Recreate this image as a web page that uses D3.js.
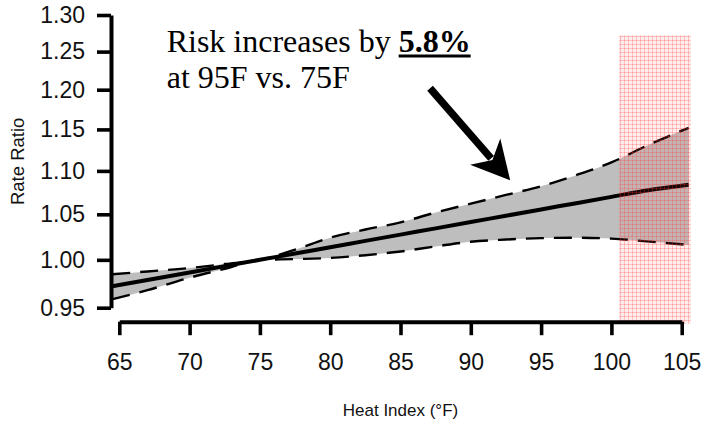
<!DOCTYPE html>
<html>
<head>
<meta charset="utf-8">
<script src="https://cdn.jsdelivr.net/npm/d3@7"></script>
<style>
  html, body { margin: 0; padding: 0; background: #fff; }
  svg { display: block; }
</style>
</head>
<body>
<svg id="chart" width="702" height="425"></svg>
<script>
// ---- Data ----
const heatIndex = [64.5, 67, 70, 72.5, 75, 77.5, 80, 82.5, 85, 87.5, 90, 92.5, 95, 97.5, 100, 102.5, 105.5];
const rateRatio = [0.972, 0.9786, 0.9866, 0.9933, 1.000, 1.0068, 1.0136, 1.0205, 1.0274, 1.0343, 1.0413, 1.0484, 1.0555, 1.0626, 1.0698, 1.0771, 1.0837];
const upperCI   = [0.9846, 0.9876, 0.9912, 0.9955, 1.000, 1.011, 1.024, 1.033, 1.041, 1.052, 1.062, 1.072, 1.082, 1.095, 1.110, 1.130, 1.152];
const lowerCI   = [0.9586, 0.9680, 0.9810, 0.9905, 1.000, 1.0008, 1.002, 1.005, 1.009, 1.0145, 1.0196, 1.022, 1.0235, 1.024, 1.023, 1.020, 1.016];
const xTicks = [65, 70, 75, 80, 85, 90, 95, 100, 105];
const yTicks = [0.95, 1.00, 1.05, 1.10, 1.15, 1.20, 1.25, 1.30];
const extremeRange = [100.55, 105.65];           // shaded "extreme heat" region (x)
const extremeRR = [0.9335, 1.272];               // its vertical extent (rate ratio)
const annotationLines = ["Risk increases by ", "5.8%", "at 95F vs. 75F"];
const annotationAnchor = [68.37, 1.25, 1.2018];  // x, first-line y, second-line y
const arrowFrom = [87.1, 1.2018];
const arrowTo = [92.8, 1.089];

// ---- Scales ----
const svg = d3.select("#chart");
const x = d3.scaleLinear().domain([65, 105]).range([119.3, 681.7]);
const y = d3.scaleLog().domain([0.95, 1.30]).range([307.7, 15]);

const data = heatIndex.map((h, i) => ({ h, rr: rateRatio[i], lo: lowerCI[i], hi: upperCI[i] }));

// ---- Band ----
svg.append("path")
  .datum(data)
  .attr("fill", "#bebebe")
  .attr("d", d3.area().curve(d3.curveMonotoneX)
    .x(d => x(d.h)).y0(d => y(d.lo)).y1(d => y(d.hi)));

// dashed CI lines
["hi", "lo"].forEach(k => {
  svg.append("path")
    .datum(data)
    .attr("fill", "none")
    .attr("stroke", "#000")
    .attr("stroke-width", 2.4)
    .attr("stroke-dasharray", "18 10")
    .attr("d", d3.line().curve(d3.curveMonotoneX).x(d => x(d.h)).y(d => y(d[k])));
});

// central estimate
svg.append("path")
  .datum(data)
  .attr("fill", "none")
  .attr("stroke", "#000")
  .attr("stroke-width", 4)
  .attr("d", d3.line().curve(d3.curveMonotoneX).x(d => x(d.h)).y(d => y(d.rr)));

// ---- Pattern region (red grid) ----
const defs = svg.append("defs");
const pat = defs.append("pattern")
  .attr("id", "redgrid")
  .attr("patternUnits", "userSpaceOnUse")
  .attr("width", 4).attr("height", 4);
pat.append("rect").attr("width", 4).attr("height", 4).attr("fill", "rgba(255,70,70,0.10)");
pat.append("rect").attr("x", 0).attr("y", 0).attr("width", 4).attr("height", 1).attr("fill", "rgba(255,50,50,0.24)");
pat.append("rect").attr("x", 0).attr("y", 0).attr("width", 1).attr("height", 4).attr("fill", "rgba(255,50,50,0.24)");

svg.append("rect")
  .attr("x", x(extremeRange[0]))
  .attr("y", y(extremeRR[1]))
  .attr("width", x(extremeRange[1]) - x(extremeRange[0]))
  .attr("height", y(extremeRR[0]) - y(extremeRR[1]))
  .attr("fill", "url(#redgrid)");

// ---- Axes ----
const fontSans = "'Liberation Sans', Arial, Helvetica, sans-serif";

const yAxis = svg.append("g")
  .attr("transform", "translate(111,0)")
  .call(d3.axisLeft(y).tickValues(yTicks).tickFormat(d3.format(".2f"))
    .tickSize(14).tickSizeOuter(0).tickPadding(12));

const xAxis = svg.append("g")
  .attr("transform", "translate(0,321.7)")
  .call(d3.axisBottom(x).tickValues(xTicks).tickFormat(d3.format("d"))
    .tickSize(13.5).tickSizeOuter(0).tickPadding(18.5));

[yAxis, xAxis].forEach(g => {
  g.select(".domain").attr("stroke", "#000").attr("stroke-width", 4);
  g.selectAll(".tick line").attr("stroke", "#000").attr("stroke-width", 3.6);
  g.selectAll(".tick text")
    .attr("fill", "#111")
    .style("font-family", fontSans)
    .style("font-size", "23px");
});

// axis titles
svg.append("text")
  .attr("transform", `translate(24,${(y(0.95) + y(1.30)) / 2}) rotate(-90)`)
  .attr("text-anchor", "middle")
  .style("font-family", fontSans)
  .style("font-size", "18.5px")
  .attr("fill", "#111")
  .text("Rate Ratio");

svg.append("text")
  .attr("x", (x(65) + x(105)) / 2)
  .attr("y", 416)
  .attr("text-anchor", "middle")
  .style("font-family", fontSans)
  .style("font-size", "17px")
  .attr("fill", "#111")
  .text("Heat Index (°F)");

// ---- Annotation ----
const fontSerif = "'Liberation Serif', 'Times New Roman', Times, serif";
const ax = x(annotationAnchor[0]);
const t1 = svg.append("text")
  .attr("x", ax).attr("y", y(annotationAnchor[1]))
  .style("font-family", fontSerif).style("font-size", "32px").attr("fill", "#000");
t1.append("tspan").text(annotationLines[0]);
t1.append("tspan").style("font-weight", "bold").text(annotationLines[1]);

const n0 = annotationLines[0].length;
const startW = t1.node().getSubStringLength(0, n0);
const boldW = t1.node().getSubStringLength(n0, annotationLines[1].length);
svg.append("line")
  .attr("x1", ax + startW).attr("x2", ax + startW + boldW)
  .attr("y1", y(annotationAnchor[1]) + 4.5).attr("y2", y(annotationAnchor[1]) + 4.5)
  .attr("stroke", "#000").attr("stroke-width", 3);

svg.append("text")
  .attr("x", ax).attr("y", y(annotationAnchor[2]))
  .style("font-family", fontSerif).style("font-size", "32px").attr("fill", "#000")
  .text(annotationLines[2]);

// arrow
const p0 = [x(arrowFrom[0]), y(arrowFrom[1])];
const p1 = [x(arrowTo[0]), y(arrowTo[1])];
const dx = p1[0] - p0[0], dy = p1[1] - p0[1];
const L = Math.hypot(dx, dy);
const ux = dx / L, uy = dy / L, px = -uy, py = ux;
const headLen = 38, notch = 27, halfW = 20;
const shaftEnd = [p1[0] - ux * (notch + 2), p1[1] - uy * (notch + 2)];
svg.append("line")
  .attr("x1", p0[0]).attr("y1", p0[1])
  .attr("x2", shaftEnd[0]).attr("y2", shaftEnd[1])
  .attr("stroke", "#000").attr("stroke-width", 7.5);
const head = [
  p1,
  [p1[0] - ux * headLen + px * halfW, p1[1] - uy * headLen + py * halfW],
  [p1[0] - ux * notch, p1[1] - uy * notch],
  [p1[0] - ux * headLen - px * halfW, p1[1] - uy * headLen - py * halfW]
];
svg.append("path")
  .attr("d", "M" + head.map(p => p.join(",")).join("L") + "Z")
  .attr("fill", "#000");
</script>
</body>
</html>
